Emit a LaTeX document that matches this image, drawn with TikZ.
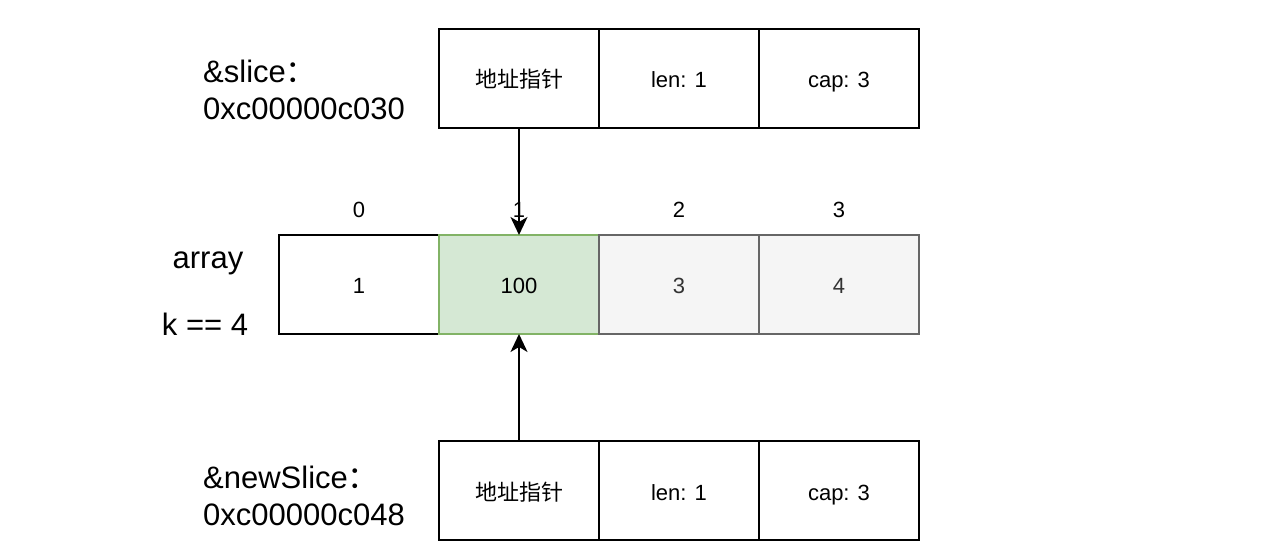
\documentclass[tikz,border=0pt]{standalone}
\usepackage{fontspec}
\setmainfont{Liberation Sans}
\newfontfamily\cjk{Noto Sans CJK SC}
\usepackage{tikz}
\usetikzlibrary{positioning}
\usetikzlibrary{arrows.meta}

\definecolor{greenfill}{HTML}{D5E8D4}
\definecolor{greenline}{HTML}{82B366}
\definecolor{grayfill}{HTML}{F5F5F5}
\definecolor{grayline}{HTML}{666666}
\definecolor{graytext}{HTML}{333333}

\tikzset{
    cell/.style={draw, line width=2pt, minimum width=160pt, minimum height=99pt,
        inner sep=0pt, outer sep=0pt, text height=22pt, text depth=3pt,
        font=\fontsize{22}{26}\selectfont},
    hotcell/.style={cell, fill=greenfill, draw=greenline},
    oldcell/.style={cell, fill=grayfill, draw=grayline, text=graytext},
    biglabel/.style={inner sep=0pt, font=\fontsize{31}{37}\selectfont},
    idx/.style={inner sep=0pt, font=\fontsize{22}{26}\selectfont},
    ptr/.style={line width=2pt, -{Stealth[length=18pt,width=17pt,inset=5pt]}}
}

\begin{document}
\begin{tikzpicture}[x=1pt, y=-1pt]
    \useasboundingbox (0,0) rectangle (1270,556);

    % slice header
    \node[cell] (ptrTop) at (519,78.5) {\cjk 地址指针};
    \node[cell, right=0pt of ptrTop] (lenTop) {len: 1};
    \node[cell, right=0pt of lenTop] (capTop) {cap: 3};

    % array
    \node[cell] (a0) at (359,284.5) {1};
    \node[hotcell, right=0pt of a0] (a1) {100};
    \node[oldcell, right=0pt of a1] (a2) {3};
    \node[oldcell, right=0pt of a2] (a3) {4};

    \node[idx, above=17pt of a0] (i0) {0};
    \node[idx, above=17pt of a1] (i1) {1};
    \node[idx, above=17pt of a2] (i2) {2};
    \node[idx, above=17pt of a3] (i3) {3};

    % newSlice header
    \node[cell] (ptrBot) at (519,490.5) {\cjk 地址指针};
    \node[cell, right=0pt of ptrBot] (lenBot) {len: 1};
    \node[cell, right=0pt of lenBot] (capBot) {cap: 3};

    \node[biglabel, align=left, anchor=west] (sliceLbl) at (203,90) {\&slice{\cjk ：}\\0xc00000c030};
    \node[biglabel, align=left, anchor=west] (newLbl) at (203,496) {\&newSlice{\cjk ：}\\0xc00000c048};
    \node[biglabel] (arrayLbl) at (208,263) {array};
    \node[biglabel] (kLbl) at (205,324) {k == 4};

    \draw[ptr] (ptrTop) -- (a1);
    \draw[ptr] (ptrBot) -- (a1);
\end{tikzpicture}
\end{document}
